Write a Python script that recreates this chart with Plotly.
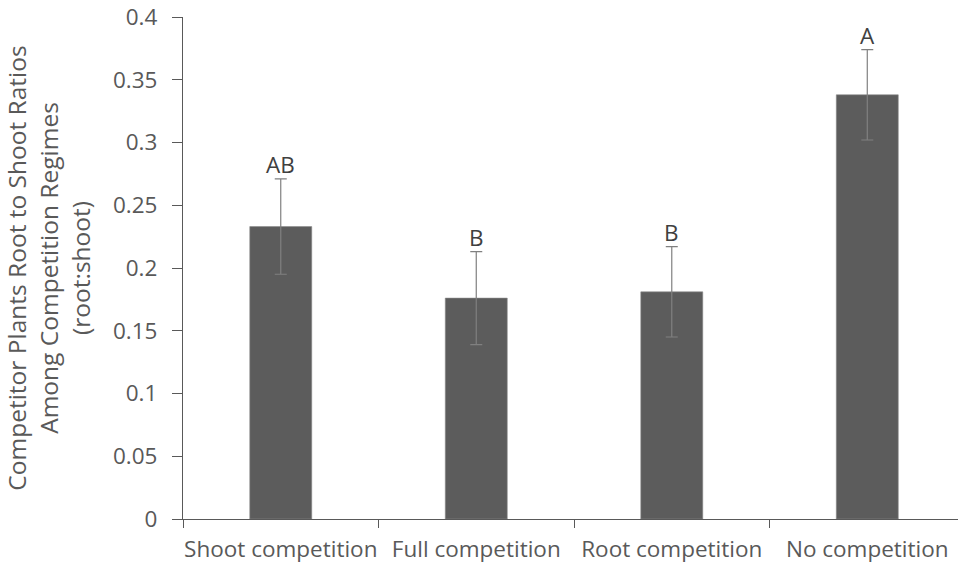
import plotly.graph_objects as go

# Root:shoot ratio of competitor plants per competition regime
categories = ["Shoot competition", "Full competition", "Root competition", "No competition"]
ratios = [0.233, 0.176, 0.181, 0.338]
std_errors = [0.038, 0.037, 0.036, 0.036]
group_letters = ["AB", "B", "B", "A"]

y_tickvals = [0, 0.05, 0.1, 0.15, 0.2, 0.25, 0.3, 0.35, 0.4]
y_ticktext = ["0", "0.05", "0.1", "0.15", "0.2", "0.25", "0.3", "0.35", "0.4"]

FONT = "Open Sans, sans-serif"
TEXT_GRAY = "#595959"
SIZE = 22.5
TITLE_SIZE = 24.5

fig = go.Figure()
fig.add_trace(go.Bar(
    x=categories,
    y=ratios,
    width=0.317,
    marker=dict(color="#5c5c5c", line=dict(color="#8a8a8a", width=0.6)),
    error_y=dict(type="data", array=std_errors, visible=True,
                 color="#808080", thickness=1.2, width=6),
    showlegend=False,
    hoverinfo="skip",
))

# significance letters above each error bar
for cat, val, err, letter in zip(categories, ratios, std_errors, group_letters):
    fig.add_annotation(
        x=cat, y=val + err, text=letter, showarrow=False,
        yanchor="bottom", yshift=-3,
        font=dict(family=FONT, size=SIZE, color="#404040"),
    )

fig.update_layout(
    width=958, height=569,
    margin=dict(l=183, r=0, t=17, b=50),
    paper_bgcolor="white", plot_bgcolor="white",
    font=dict(family=FONT, size=SIZE, color=TEXT_GRAY),
    bargap=0.6,
)
fig.update_xaxes(
    range=[-0.5, 3.464],
    showline=True, linecolor="#595959", linewidth=1.2,
    ticks="outside", tickson="boundaries", ticklen=8,
    tickcolor="#595959", tickwidth=1.2,
    ticklabelstandoff=10, tickangle=0, automargin=False,
    showgrid=False, zeroline=False,
    tickfont=dict(family=FONT, size=SIZE, color=TEXT_GRAY),
)
fig.update_yaxes(
    range=[0, 0.4],
    tickvals=y_tickvals, ticktext=y_ticktext,
    showline=True, linecolor="#595959", linewidth=1.2,
    ticks="outside", ticklen=10, tickcolor="#595959", tickwidth=1.2,
    ticklabelstandoff=10, automargin=False,
    showgrid=False, zeroline=False,
    tickfont=dict(family=FONT, size=SIZE, color=TEXT_GRAY),
    title=dict(
        text="Competitor Plants Root to Shoot Ratios<br>Among Competition Regimes<br>(root:shoot)",
        font=dict(family=FONT, size=TITLE_SIZE, color=TEXT_GRAY),
        standoff=25,
    ),
)

fig.write_html("out.html")
